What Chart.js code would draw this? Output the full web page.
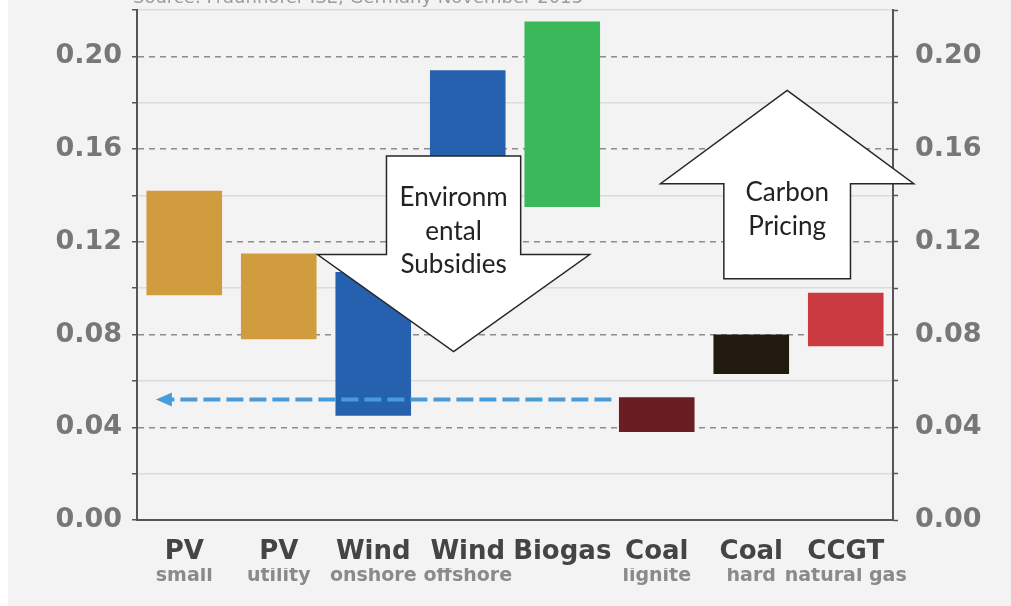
<!DOCTYPE html>
<html>
<head>
<meta charset="utf-8">
<script src="https://cdn.jsdelivr.net/npm/chart.js@4.4.1/dist/chart.umd.min.js"></script>
<style>
  html, body { margin: 0; padding: 0; background: #fff; }
  #wrap { width: 1011px; height: 606px; }
</style>
</head>
<body>
<div id="wrap"><canvas id="myChart" width="1011" height="606"></canvas></div>
<script>
// technologies along the bottom
const names = ['PV', 'PV', 'Wind', 'Wind', 'Biogas', 'Coal', 'Coal', 'CCGT'];
const subs = ['small', 'utility', 'onshore', 'offshore', '', 'lignite', 'hard', 'natural gas'];

// cost range per technology, EUR/kWh
const low = [0.097, 0.078, 0.045, 0.119, 0.135, 0.038, 0.063, 0.075];
const high = [0.142, 0.115, 0.107, 0.194, 0.215, 0.053, 0.080, 0.098];

const COLORS = ['#d09c3e', '#d09c3e', '#2661b0', '#2661b0', '#3bb85a', '#6a1e21', '#201a10', '#cc3a41'];

const yTicks = { min: 0, max: 0.22, step: 0.02 };

const sourceNote = 'Source: Fraunhofer ISE, Germany November 2013';

// dashed shift arrow: x in category units, y in EUR/kWh
const shiftArrow = { from: 4.52, to: -0.3, value: 0.052 };

// block arrows, same units
const subsidyArrow = {
  dir: 'down', center: 2.85, body: 0.71, head: 1.44,
  top: 0.157, neck: 0.1145, tip: 0.0726,
  lines: ['Environm', 'ental', 'Subsidies'], lineY: [0.1392, 0.1242, 0.1100]
};
const carbonArrow = {
  dir: 'up', center: 6.38, body: 0.67, head: 1.34,
  tip: 0.1853, neck: 0.1451, bottom: 0.1041,
  lines: ['Carbon', 'Pricing'], lineY: [0.1412, 0.1266]
};

let data = {
  labels: names,
  datasets: [{
    data: low.map((v, i) => [v, high[i]]),
    backgroundColor: COLORS,
    borderWidth: 0,
    categoryPercentage: 1,
    barPercentage: 0.8
  }]
};

function xAt(chart, idx) {
  let x = chart.scales.x;
  let step = x.getPixelForValue(1) - x.getPixelForValue(0);
  return x.getPixelForValue(0) + idx * step;
}

function drawBlockArrow(chart, a) {
  let ctx = chart.ctx;
  let y = chart.scales.y;
  let cx = xAt(chart, a.center);
  let bw = xAt(chart, a.center + a.body) - cx;
  let hw = xAt(chart, a.center + a.head) - cx;
  let pts;
  if (a.dir === 'down') {
    let t = y.getPixelForValue(a.top), n = y.getPixelForValue(a.neck), p = y.getPixelForValue(a.tip);
    pts = [[cx - bw, t], [cx + bw, t], [cx + bw, n], [cx + hw, n], [cx, p], [cx - hw, n], [cx - bw, n]];
  } else {
    let p = y.getPixelForValue(a.tip), n = y.getPixelForValue(a.neck), b = y.getPixelForValue(a.bottom);
    pts = [[cx, p], [cx + hw, n], [cx + bw, n], [cx + bw, b], [cx - bw, b], [cx - bw, n], [cx - hw, n]];
  }
  ctx.save();
  ctx.beginPath();
  pts.forEach((pt, i) => i ? ctx.lineTo(pt[0], pt[1]) : ctx.moveTo(pt[0], pt[1]));
  ctx.closePath();
  ctx.fillStyle = '#ffffff';
  ctx.fill();
  ctx.lineWidth = 1.5;
  ctx.strokeStyle = '#262626';
  ctx.stroke();
  ctx.fillStyle = '#222';
  ctx.font = '26px Lato, "Open Sans", sans-serif';
  ctx.textAlign = 'center';
  ctx.textBaseline = 'middle';
  a.lines.forEach((line, i) => ctx.fillText(line, cx, y.getPixelForValue(a.lineY[i])));
  ctx.restore();
}

const extras = {
  id: 'extras',
  beforeDraw(chart) {
    let ctx = chart.ctx;
    ctx.save();
    ctx.fillStyle = '#ffffff';
    ctx.fillRect(0, 0, chart.width, chart.height);
    ctx.fillStyle = '#f3f3f3';
    ctx.fillRect(8, 0, chart.width - 8, chart.height);
    ctx.fillStyle = '#9c9c9c';
    ctx.font = '18px "DejaVu Sans"';
    ctx.textAlign = 'left';
    ctx.textBaseline = 'alphabetic';
    ctx.fillText(sourceNote, 133, 3);
    ctx.restore();
  },
  afterDatasetsDraw(chart) {
    let ctx = chart.ctx;
    let y = chart.scales.y;
    let yy = y.getPixelForValue(shiftArrow.value);
    let x1 = xAt(chart, shiftArrow.from);
    let x2 = xAt(chart, shiftArrow.to);
    ctx.save();
    ctx.strokeStyle = '#4a9bd9';
    ctx.fillStyle = '#4a9bd9';
    ctx.lineWidth = 4;
    ctx.setLineDash([17, 6]);
    ctx.beginPath();
    ctx.moveTo(x1, yy);
    ctx.lineTo(x2 + 12, yy);
    ctx.stroke();
    ctx.setLineDash([]);
    ctx.beginPath();
    ctx.moveTo(x2, yy);
    ctx.lineTo(x2 + 16, yy - 7);
    ctx.lineTo(x2 + 16, yy + 7);
    ctx.closePath();
    ctx.fill();
    ctx.restore();

    drawBlockArrow(chart, subsidyArrow);
    drawBlockArrow(chart, carbonArrow);
  }
};

function yLabel(value, index) {
  return index % 2 === 0 ? value.toFixed(2) : '';
}

function noPad(scale) {
  scale.paddingTop = 0;
  scale.paddingBottom = 0;
  scale.paddingLeft = 0;
  scale.paddingRight = 0;
}

const tickFont = { family: 'DejaVu Sans', size: 27, weight: 'bold' };

var ctx = document.getElementById('myChart');
var chart = new Chart(ctx, {
  type: 'bar',
  data: data,
  plugins: [extras],
  options: {
    responsive: false,
    animation: false,
    layout: { padding: { top: 10, left: 0, right: 0, bottom: 0 } },
    plugins: { legend: { display: false }, tooltip: { enabled: false } },
    scales: {
      x: {
        position: 'bottom',
        weight: 0,
        grid: { display: false, drawTicks: false },
        border: { display: true, color: '#555', width: 2 },
        ticks: {
          autoSkip: false, maxRotation: 0, minRotation: 0, padding: 17,
          color: '#444',
          font: { family: 'DejaVu Sans', size: 26, weight: 'bold' }
        },
        afterFit: (s) => { s.height = 48; noPad(s); }
      },
      x2: {
        type: 'category',
        labels: subs,
        position: 'bottom',
        weight: 1,
        offset: true,
        grid: { display: false, drawTicks: false },
        border: { display: false },
        ticks: {
          autoSkip: false, maxRotation: 0, minRotation: 0, padding: -3,
          color: '#8a8a8a',
          font: { family: 'DejaVu Sans', size: 19, weight: 'bold' }
        },
        afterFit: (s) => { s.height = 38; noPad(s); }
      },
      y: {
        position: 'left',
        min: yTicks.min,
        max: yTicks.max,
        ticks: {
          stepSize: yTicks.step,
          padding: 10,
          color: '#777',
          font: tickFont,
          callback: yLabel
        },
        grid: {
          color: (c) => c.index % 2 === 0 ? '#8c8c8c' : '#dcdcdc',
          lineWidth: 1.5,
          tickLength: 5,
          tickColor: '#555',
          tickWidth: 1.5,
          tickBorderDash: []
        },
        border: {
          display: true, color: '#555', width: 2,
          dash: (c) => c.tick && c.index % 2 === 0 ? [6, 5] : []
        },
        afterFit: (s) => { s.width = 137; noPad(s); }
      },
      y2: {
        position: 'right',
        min: yTicks.min,
        max: yTicks.max,
        ticks: {
          stepSize: yTicks.step,
          padding: 17,
          color: '#777',
          font: tickFont,
          callback: yLabel
        },
        grid: {
          drawOnChartArea: false,
          tickLength: 5,
          tickColor: '#555',
          tickWidth: 1.5
        },
        border: { display: true, color: '#555', width: 2 },
        afterFit: (s) => { s.width = 118; noPad(s); }
      }
    }
  }
});
</script>
</body>
</html>
